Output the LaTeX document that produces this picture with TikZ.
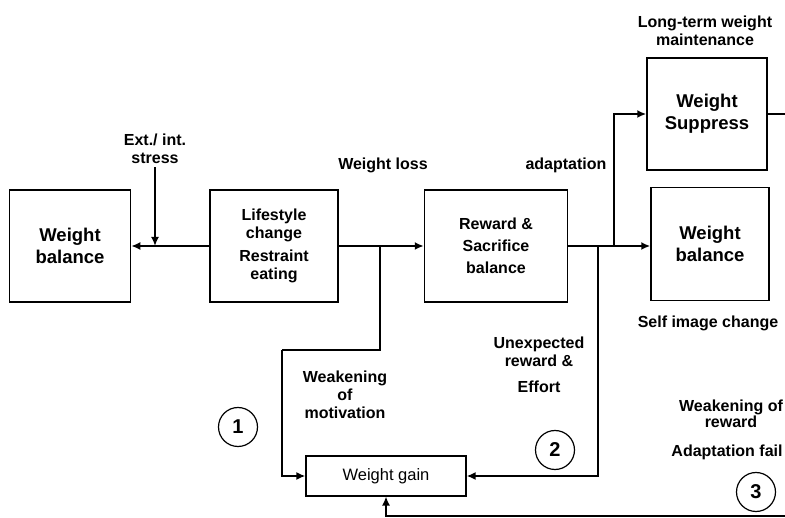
\documentclass[tikz,border=0pt]{standalone}
\usepackage{fontspec}
\setmainfont{Liberation Sans}
\usetikzlibrary{arrows.meta}
\begin{document}
\begin{tikzpicture}[x=1pt,y=-1pt,
                box/.style={draw,line width=1.5pt,inner sep=0pt,align=center,
                    font=\fontsize{18.5}{22}\selectfont\bfseries},
                lbl/.style={align=center,font=\fontsize{16}{18}\selectfont\bfseries},
                num/.style={draw,circle,line width=1.2pt,minimum size=39pt,inner sep=0pt,
                    font=\fontsize{20}{22}\selectfont\bfseries},
                flow/.style={line width=2.8pt,-{Latex[length=9pt,width=8pt]}},
                link/.style={line width=2.1pt}]
                \useasboundingbox (0,0) rectangle (785,518);

                \node[box,minimum width=121pt,minimum height=112pt] 
                    (wbl) at (70,246) {Weight\\balance};
                \node[box,minimum width=128pt,minimum height=112pt,
                    font=\fontsize{16}{18}\selectfont\bfseries] 
                    (life) at (274,246) {Lifestyle\\change\\[5pt]Restraint\\eating};
                \node[box,minimum width=143pt,minimum height=112pt,
                    font=\fontsize{16}{22}\selectfont\bfseries] 
                    (rew) at (496,246) {Reward \&\\Sacrifice\\balance};
                \node[box,minimum width=120pt,minimum height=112pt] 
                    (sup) at (707,114) {Weight\\Suppress};
                \node[box,minimum width=118pt,minimum height=113pt] 
                    (wbr) at (710,244) {Weight\\balance};
                \node[box,minimum width=160pt,minimum height=40pt,line width=1.2pt,
                    font=\fontsize{16.5}{19}\selectfont] 
                    (gain) at (386,476) {Weight gain};

                \node[lbl] (stress) at (155,149) {Ext./ int.\\stress};
                \node[lbl] (loss) at (383,165) {Weight loss};
                \node[lbl] (adapt) at (566,165) {adaptation};
                \node[lbl] (longterm) at (705,31) {Long-term weight\\maintenance};
                \node[lbl] (self) at (708,323) {Self image change};
                \node[lbl] (unexp) at (539,365) {Unexpected\\reward \&\\[8pt]Effort};
                \node[lbl] (motiv) at (345,395) {Weakening\\of\\motivation};
                \node[lbl,font=\fontsize{16}{16}\selectfont\bfseries] 
                    (wrew) at (731,414) {Weakening of\\reward};
                \node[lbl] (fail) at (727,452) {Adaptation fail};

                \node[num] (n1) at (238,427) {1};
                \node[num] (n2) at (555,450) {2};
                \node[num] (n3) at (756,492) {3};

                \coordinate (b1) at (380,246);
                \coordinate (k1) at (282,350);
                \coordinate (b2) at (614,246);
                \coordinate (b3) at (598,246);
                \coordinate (out) at (785,114);
                \coordinate (bot) at (785,516);

                \draw[flow,{Latex[length=9pt,width=8pt]}-] (wbl.east) -- (life.west);
                \draw[link,-{Latex[length=9pt,width=8pt]}] 
                    (stress.south) -- (stress.south |- wbl.east);
                \draw[flow] (life.east) -- (rew.west);
                \draw[flow] (rew.east) -- (rew.east -| wbr.west);
                \draw[link,-{Latex[length=9pt,width=8pt]}] (b2) |- (sup.west);
                \draw[link] (sup.east) -- (out);
                \draw[link] (b1) |- (k1);
                \draw[link,-{Latex[length=9pt,width=8pt]}] (k1) |- (gain.west);
                \draw[link,-{Latex[length=9pt,width=8pt]}] (b3) |- (gain.east);
                \draw[link,line width=1.4pt,-{Latex[length=9pt,width=8pt]}] 
                    (bot) -| (gain.south);
            \end{tikzpicture}
\end{document}
